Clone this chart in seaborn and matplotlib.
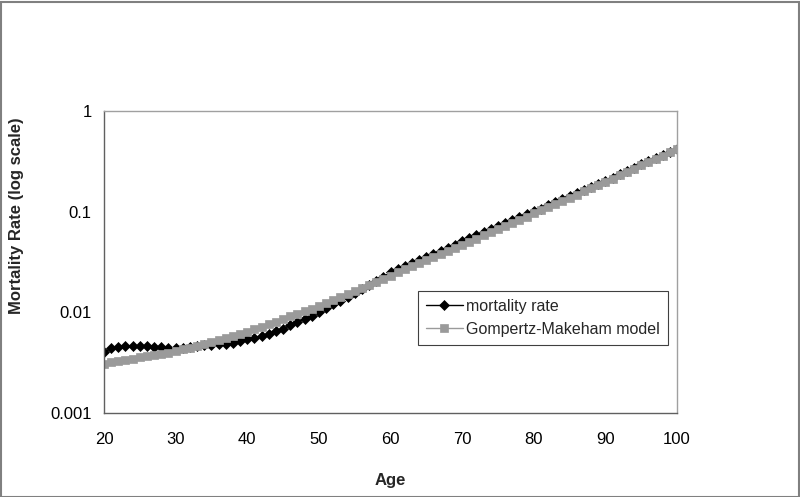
import matplotlib
matplotlib.use("Agg")
import matplotlib.pyplot as plt
from matplotlib.patches import Rectangle
from matplotlib.ticker import FixedLocator, NullLocator, FixedFormatter
import seaborn as sns
import pandas as pd

ages = list(range(20, 101))

mortality_rate = [
    0.0040, 0.0044, 0.0045, 0.0046, 0.0046, 0.0046, 0.0046, 0.0045, 0.0045, 0.0044,
    0.0044, 0.0044, 0.0045, 0.0046, 0.0047, 0.0047, 0.0048, 0.0049, 0.0050, 0.0052,
    0.0054, 0.0056, 0.0058, 0.0061, 0.0065, 0.0069, 0.0074, 0.0080, 0.0086, 0.0093,
    0.0101, 0.0110, 0.0120, 0.0131, 0.0143, 0.0156, 0.0170, 0.0186, 0.0204, 0.0225,
    0.0250, 0.0268, 0.0287, 0.0307, 0.0329, 0.0353, 0.0379, 0.0407, 0.0438, 0.0471,
    0.0506, 0.0543, 0.0583, 0.0626, 0.0671, 0.0719, 0.0770, 0.0824, 0.0881, 0.0942,
    0.1005, 0.1075, 0.1152, 0.1236, 0.1326, 0.1422, 0.1525, 0.1637, 0.1757, 0.1886,
    0.2025, 0.2180, 0.2350, 0.2535, 0.2733, 0.2945, 0.3170, 0.3411, 0.3670, 0.3940,
    0.4200,
]

gompertz_makeham = [
    0.00310, 0.00319, 0.00328, 0.00337, 0.00346, 0.00356, 0.00366, 0.00377, 0.00387, 0.00398,
    0.00410, 0.00428, 0.00447, 0.00468, 0.00489, 0.00511, 0.00535, 0.00559, 0.00584, 0.00611,
    0.00640, 0.00679, 0.00720, 0.00763, 0.00809, 0.00858, 0.00910, 0.00965, 0.01024, 0.01086,
    0.01150, 0.01234, 0.01323, 0.01420, 0.01523, 0.01634, 0.01753, 0.01881, 0.02018, 0.02164,
    0.02320, 0.02489, 0.02670, 0.02865, 0.03073, 0.03297, 0.03537, 0.03795, 0.04071, 0.04368,
    0.04680, 0.05028, 0.05402, 0.05805, 0.06237, 0.06701, 0.07199, 0.07735, 0.08311, 0.08929,
    0.09600, 0.1031, 0.1108, 0.1191, 0.1279, 0.1374, 0.1477, 0.1587, 0.1705, 0.1832,
    0.1970, 0.2125, 0.2292, 0.2473, 0.2668, 0.2878, 0.3105, 0.3349, 0.3613, 0.3898,
    0.4200,
]

series_names = ["mortality rate", "Gompertz-Makeham model"]
x_ticks = [20, 30, 40, 50, 60, 70, 80, 90, 100]
y_ticks = [0.001, 0.01, 0.1, 1]
y_tick_labels = ["0.001", "0.01", "0.1", "1"]
x_label = "Age"
y_label = "Mortality Rate (log scale)"

sns.set_style("white")
plt.rcParams["font.family"] = ["Liberation Sans", "DejaVu Sans"]

W, H = 800, 497
fig = plt.figure(figsize=(W / 100, H / 100), dpi=100)
fig.patch.set_facecolor("white")
L, R, T, B = 104, 677, 111, 413
ax = fig.add_axes([L / W, 1 - B / H, (R - L) / W, (B - T) / H])

df1 = pd.DataFrame({"Age": ages, "rate": mortality_rate})
df2 = pd.DataFrame({"Age": ages, "rate": gompertz_makeham})

sns.lineplot(data=df1, x="Age", y="rate", ax=ax, color="black", linewidth=1.0,
             marker="D", markersize=4.8, markeredgecolor="black",
             markerfacecolor="black", markeredgewidth=0.5, label=series_names[0])
sns.lineplot(data=df2, x="Age", y="rate", ax=ax, color="#9a9a9a", linewidth=1.0,
             marker="s", markersize=5.6, markeredgecolor="#9a9a9a",
             markerfacecolor="#9a9a9a", markeredgewidth=0.5, label=series_names[1])

ax.set_yscale("log")
ax.set_xlim(20, 100)
ax.set_ylim(0.001, 1)
ax.xaxis.set_major_locator(FixedLocator(x_ticks))
ax.yaxis.set_major_locator(FixedLocator(y_ticks))
ax.yaxis.set_major_formatter(FixedFormatter(y_tick_labels))
ax.yaxis.set_minor_locator(NullLocator())
ax.xaxis.set_minor_locator(NullLocator())
ax.tick_params(axis="both", which="major", direction="out", length=5,
               width=1, color="#606060", labelsize=12, labelcolor="black")
ax.tick_params(axis="x", pad=9)
ax.tick_params(axis="y", pad=4)
ax.set_xlabel("")
ax.set_ylabel("")

for side in ["left", "bottom"]:
    ax.spines[side].set_color("#606060")
    ax.spines[side].set_linewidth(1.0)
for side in ["top", "right"]:
    ax.spines[side].set_color("#a0a0a0")
    ax.spines[side].set_linewidth(1.0)
    ax.spines[side].set_visible(True)

fig.text(390 / W, 1 - 481 / H, x_label, ha="center", va="center",
         fontsize=12, fontweight="bold")
fig.text(17 / W, 1 - 216 / H, y_label, ha="center", va="center",
         fontsize=12, fontweight="bold", rotation=90)

leg = ax.legend(loc="upper left", bbox_to_anchor=(418 / W, 1 - 291 / H),
                bbox_transform=fig.transFigure, borderaxespad=0,
                fontsize=11.5, frameon=True, fancybox=False, framealpha=1,
                handlelength=2.3, handletextpad=0.2, borderpad=0.5,
                labelspacing=0.5)
leg.get_frame().set_edgecolor("#404040")
leg.get_frame().set_linewidth(0.8)

fig.patches.append(Rectangle((0.5 / W, 0.5 / H), 1 - 2 / W, 1 - 2 / H,
                             transform=fig.transFigure, fill=False,
                             edgecolor="#808080", linewidth=1.5))

fig.savefig("out.png", dpi=100)
